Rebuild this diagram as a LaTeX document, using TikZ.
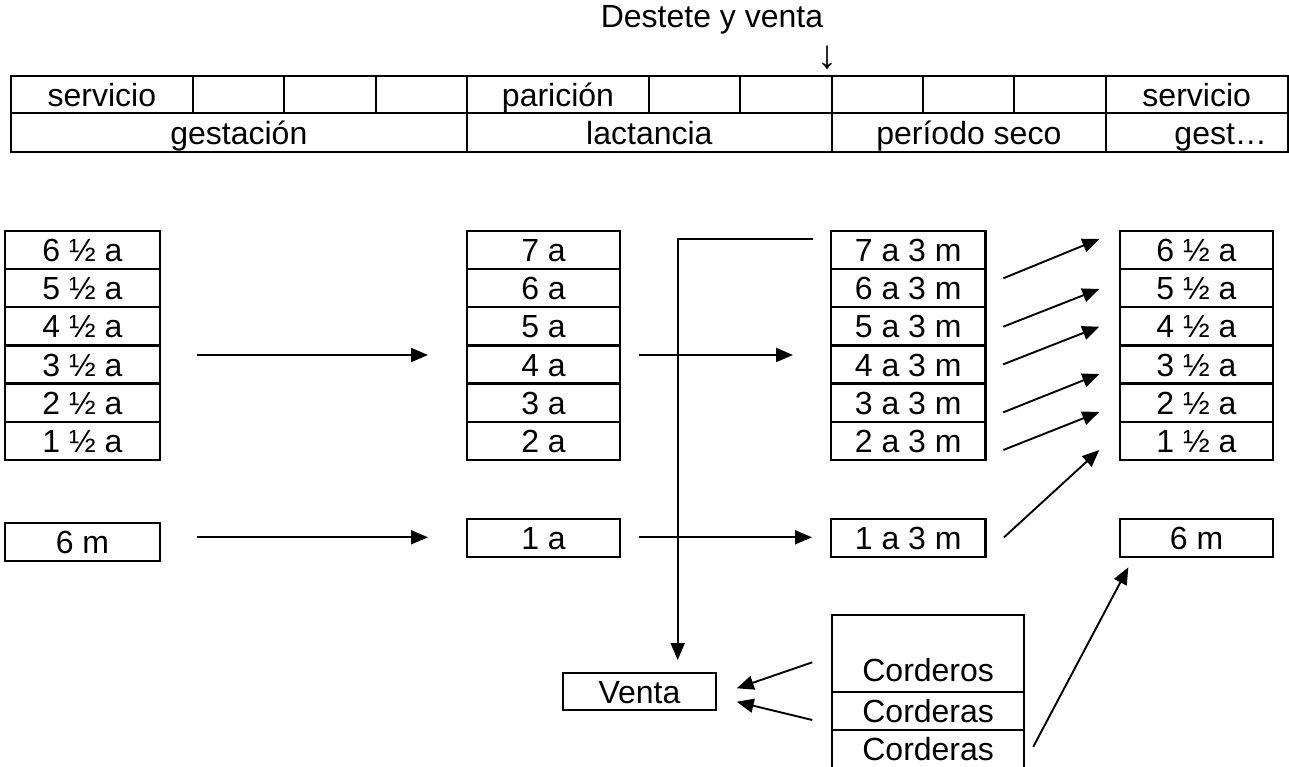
\documentclass[tikz,border=0pt]{standalone}
\usepackage{fontspec}
\setmainfont{Liberation Sans}
\usetikzlibrary{arrows.meta,calc}
\begin{document}
\begin{tikzpicture}[x=1pt,y=-1pt,
  txt/.style={font=\fontsize{32}{38}\selectfont},
  tcell/.style={txt,draw,line width=1.8pt,inner sep=0pt,text height=23.2pt,text depth=0pt},
  cell/.style={txt,draw,line width=2.3pt,inner sep=0pt,minimum height=38.2pt,text height=23.2pt,text depth=0pt},
  c1/.style={cell,minimum width=155pt},
  c2/.style={cell,minimum width=153.6pt},
  c3/.style={cell,minimum width=154.5pt},
  c4/.style={cell,minimum width=153.6pt},
  arr/.style={line width=1.9pt,-{Triangle[length=17pt,width=14pt]}},
  plain/.style={line width=1.9pt}]
\useasboundingbox (0,0) rectangle (1289,767);

% header
\node[txt,inner sep=0pt] (dv) at (712,20) {Destete y venta};
\node[inner sep=0pt,font=\fontsize{40}{40}\selectfont] (dvarrow) at (827,58) {↓};

% top table, row 1
\begin{scope}[every node/.append style={tcell,minimum height=37.6pt}]
\node[minimum width=181.7pt] (t1) at (101.85,94.5) {servicio};
\node[minimum width=91.3pt] (t2) at (238.35,94.5) {};
\node[minimum width=92pt] (t3) at (330,94.5) {};
\node[minimum width=90.7pt] (t4) at (421.35,94.5) {};
\node[minimum width=182.6pt] (t5) at (558,94.5) {parición};
\node[minimum width=90.7pt] (t6) at (694.65,94.5) {};
\node[minimum width=92pt] (t7) at (786,94.5) {};
\node[minimum width=91.3pt] (t8) at (877.65,94.5) {};
\node[minimum width=91pt] (t9) at (968.8,94.5) {};
\node[minimum width=91.4pt] (t10) at (1060,94.5) {};
\node[minimum width=182pt] (t11) at (1196.7,94.5) {servicio};
\end{scope}
% row 2
\begin{scope}[every node/.append style={tcell,minimum height=38.4pt}]
\node[minimum width=455.7pt] (g1) at (238.85,132.5) {gestación};
\node[minimum width=365.3pt] (g2) at (649.35,132.5) {lactancia};
\node[minimum width=273.7pt] (g3) at (968.85,132.5) {período seco};
\node[minimum width=182pt] (g4) at (1196.7,132.5) {\hspace*{48pt}gest…};
\end{scope}

% column 1
\node[c1] (l1) at (82.5,249.85) {6 ½ a};
\node[c1] (l2) at (82.5,288.05) {5 ½ a};
\node[c1] (l3) at (82.5,326.25) {4 ½ a};
\node[c1] (l4) at (82.5,364.45) {3 ½ a};
\node[c1] (l5) at (82.5,402.65) {2 ½ a};
\node[c1] (l6) at (82.5,440.85) {1 ½ a};
\node[c1] (l7) at (82.5,541.8) {6 m};

% column 2
\node[c2] (m1) at (543.5,249.85) {7 a};
\node[c2] (m2) at (543.5,288.05) {6 a};
\node[c2] (m3) at (543.5,326.25) {5 a};
\node[c2] (m4) at (543.5,364.45) {4 a};
\node[c2] (m5) at (543.5,402.65) {3 a};
\node[c2] (m6) at (543.5,440.85) {2 a};
\node[c2] (m7) at (543.5,538.2) {1 a};

% column 3
\node[c3] (r1) at (908.25,249.85) {7 a 3 m};
\node[c3] (r2) at (908.25,288.05) {6 a 3 m};
\node[c3] (r3) at (908.25,326.25) {5 a 3 m};
\node[c3] (r4) at (908.25,364.45) {4 a 3 m};
\node[c3] (r5) at (908.25,402.65) {3 a 3 m};
\node[c3] (r6) at (908.25,440.85) {2 a 3 m};
\node[c3] (r7) at (908.25,538.2) {1 a 3 m};

% column 4
\node[c4] (s1) at (1196.5,249.85) {6 ½ a};
\node[c4] (s2) at (1196.5,288.05) {5 ½ a};
\node[c4] (s3) at (1196.5,326.25) {4 ½ a};
\node[c4] (s4) at (1196.5,364.45) {3 ½ a};
\node[c4] (s5) at (1196.5,402.65) {2 ½ a};
\node[c4] (s6) at (1196.5,440.85) {1 ½ a};
\node[c4] (s7) at (1196.5,538) {6 m};

% venta and lambs
\node[cell,minimum width=153.6pt,minimum height=37.3pt] (venta) at (639.5,691.4) {Venta};
\node[cell,minimum width=191.7pt,minimum height=76.7pt,text height=66.7pt,text depth=10pt] (cos) at (928.15,653.35) {Corderos};
\node[cell,minimum width=191.7pt,minimum height=38.3pt] (ca1) at (928.15,710.85) {Corderas};
\node[cell,minimum width=191.7pt,minimum height=38.3pt] (ca2) at (928.15,749.15) {Corderas};

% free arrow ends
\coordinate (a1s) at (197,355);   \coordinate (a1e) at (428,355);
\coordinate (a2s) at (197,537.3); \coordinate (a2e) at (428,537.3);
\coordinate (a3s) at (639,355);   \coordinate (a3e) at (793,355);
\coordinate (a4s) at (639,537.3); \coordinate (a4e) at (812,537.3);
\coordinate (d1s) at (1003.3,278.3); \coordinate (d1e) at (1099.3,239);
\coordinate (d2s) at (1003.3,326.7); \coordinate (d2e) at (1099.3,289);
\coordinate (d3s) at (1003.3,364.3); \coordinate (d3e) at (1099.3,326.7);
\coordinate (d4s) at (1003.3,412.3); \coordinate (d4e) at (1099.3,374);
\coordinate (d5s) at (1003.3,450);   \coordinate (d5e) at (1099.3,412);
\coordinate (d6s) at (1004,537.3);   \coordinate (d6e) at (1099.3,450);
\coordinate (cas) at (1033.3,746.7); \coordinate (cae) at (1128.3,567.3);
\coordinate (v1s) at (812.3,662.3);  \coordinate (v1e) at (736.7,688.3);
\coordinate (v2s) at (812.3,720);    \coordinate (v2e) at (736.7,701.7);
\coordinate (sales) at (812.7,239.3); \coordinate (salec) at (677.7,239.3);
\coordinate (salee) at (677.7,660);

\draw[arr] (a1s) -- (a1e);
\draw[arr] (a2s) -- (a2e);
\draw[arr] (a3s) -- (a3e);
\draw[arr] (a4s) -- (a4e);
\draw[arr] (d1s) -- (d1e);
\draw[arr] (d2s) -- (d2e);
\draw[arr] (d3s) -- (d3e);
\draw[arr] (d4s) -- (d4e);
\draw[arr] (d5s) -- (d5e);
\draw[arr] (d6s) -- (d6e);
\draw[arr] (cas) -- (cae);
\draw[arr] (v1s) -- (v1e);
\draw[arr] (v2s) -- (v2e);
\draw[arr] (sales) -- (salec) -- (salee);
\end{tikzpicture}
\end{document}
